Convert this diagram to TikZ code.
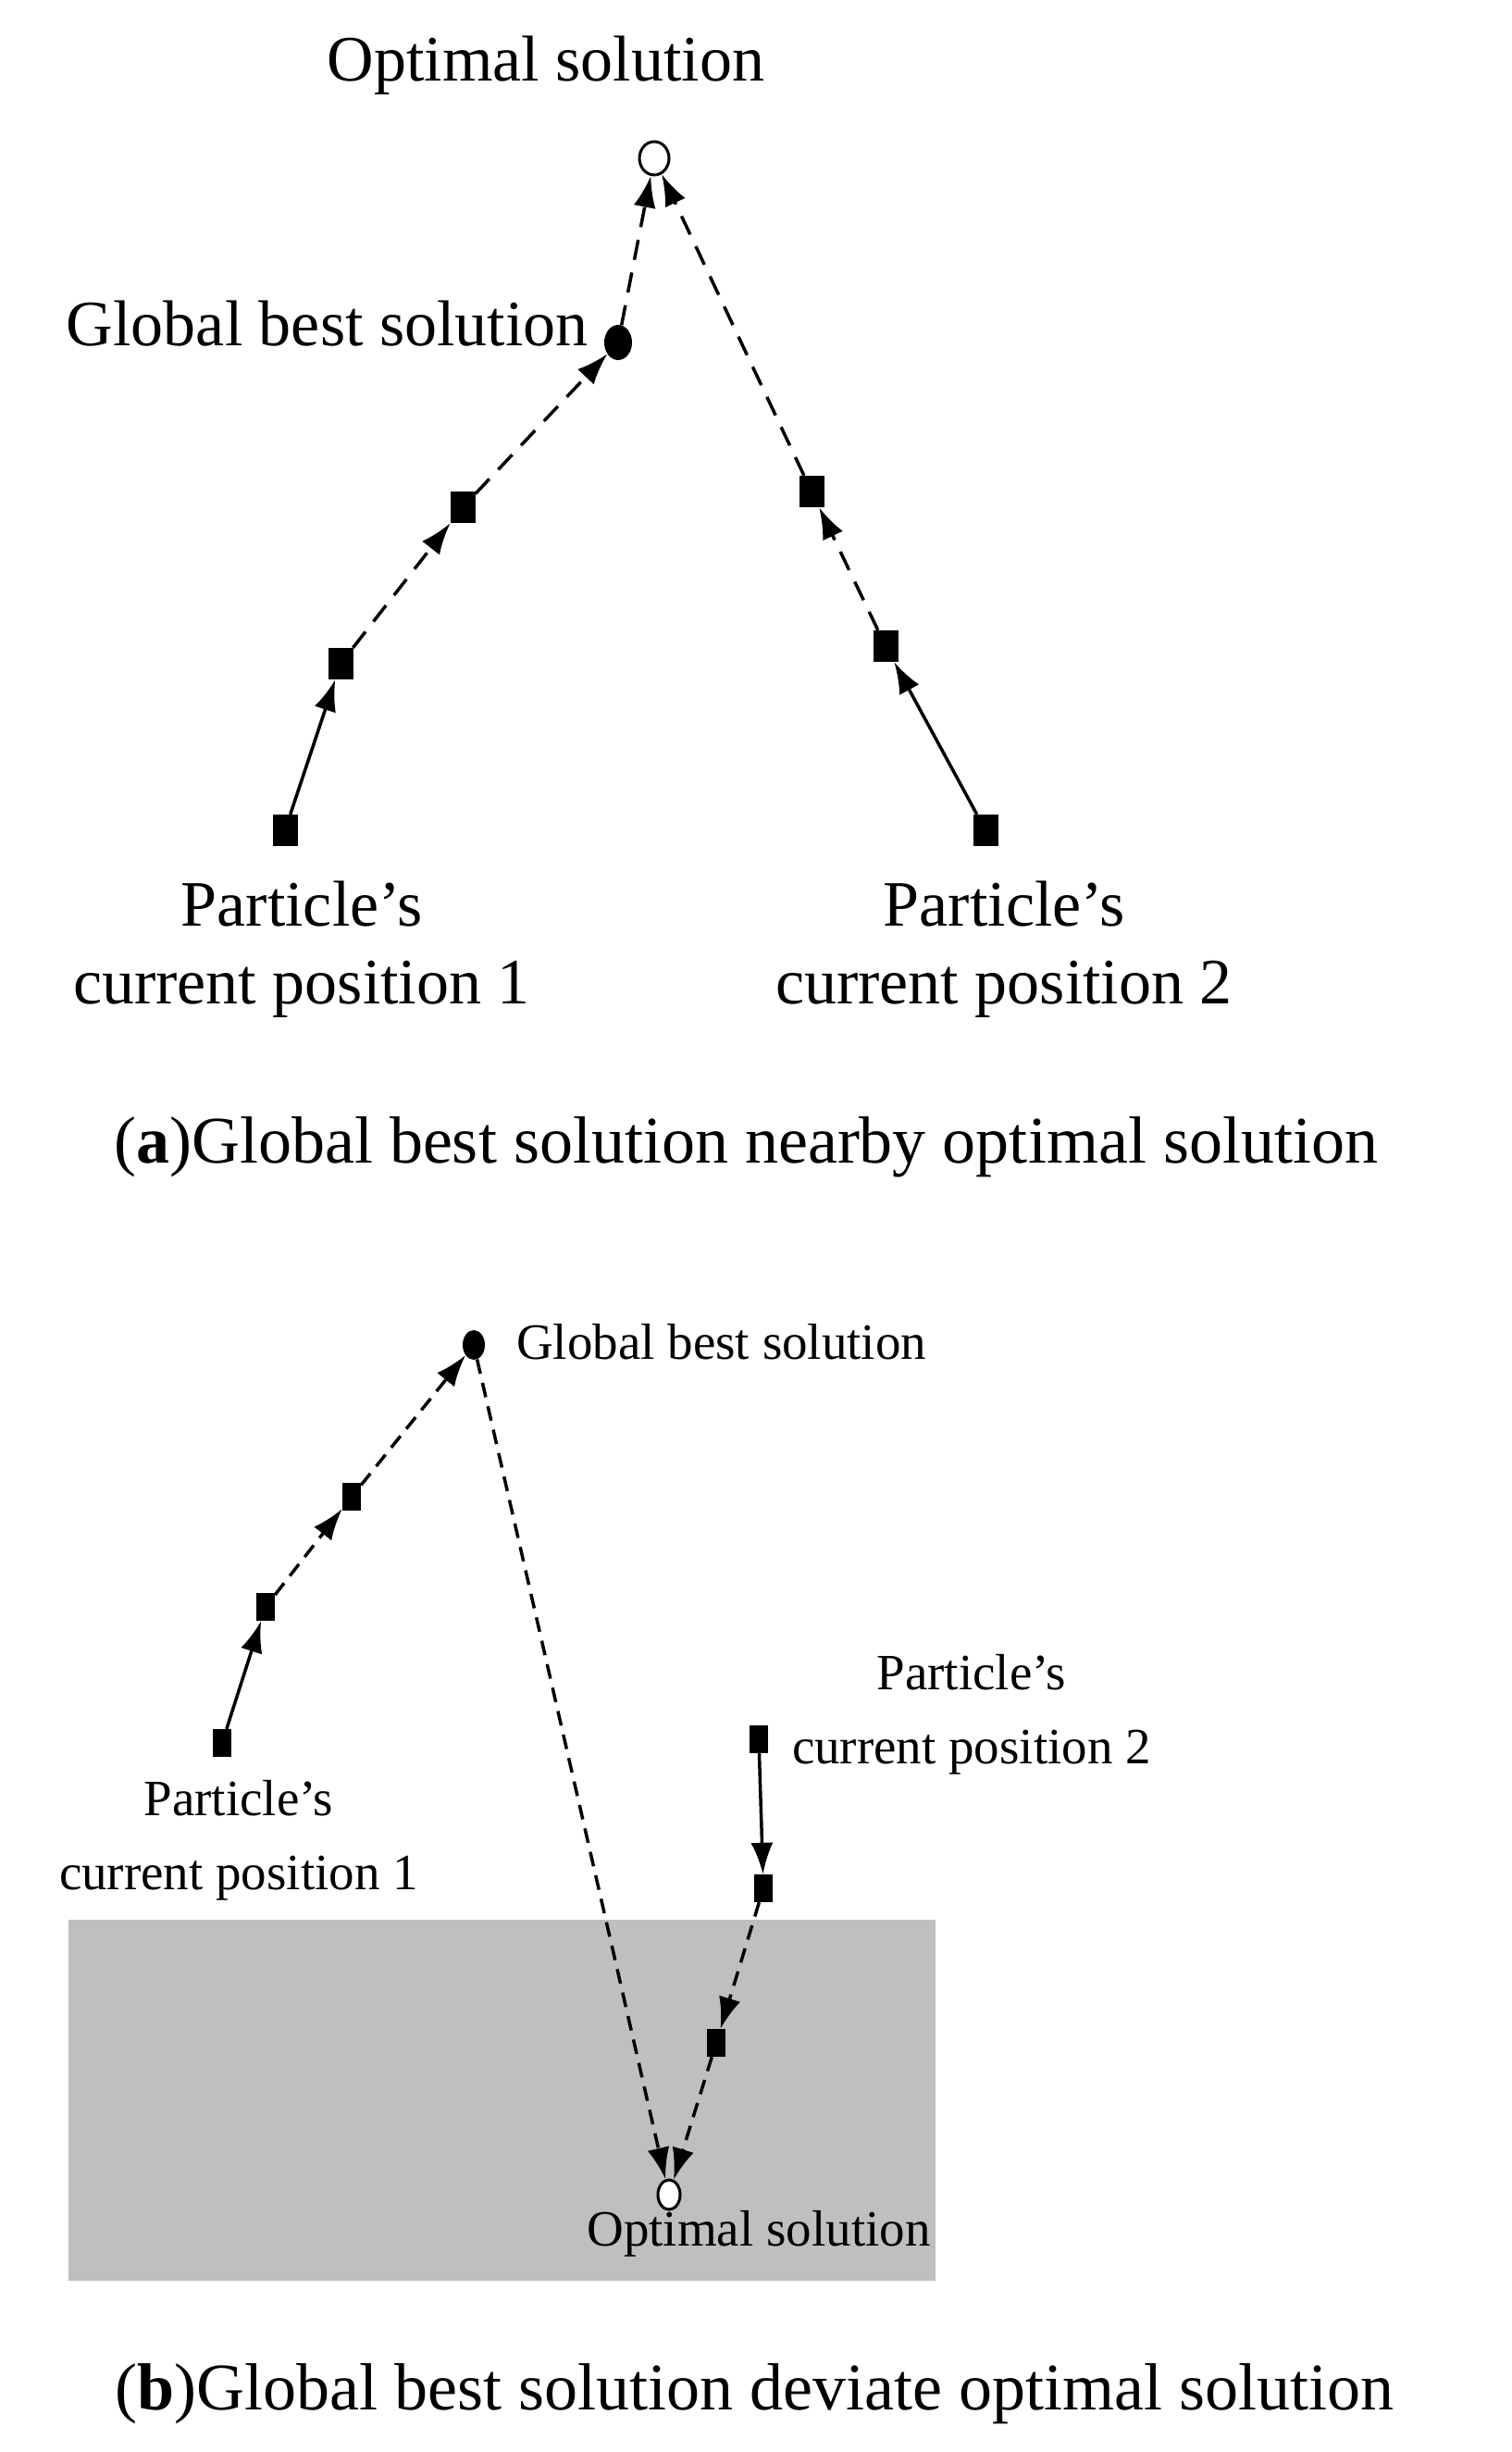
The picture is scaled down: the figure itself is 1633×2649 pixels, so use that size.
\documentclass[tikz,border=0pt]{standalone}
\usepackage{fontspec}
\setmainfont{Liberation Serif}
\usetikzlibrary{arrows.meta,shapes.geometric}
\begin{document}
\begin{tikzpicture}[x=1pt,y=-1pt,
  sq/.style={fill=black,minimum width=27pt,minimum height=34pt,inner sep=0pt},
  sqb/.style={fill=black,minimum width=20pt,minimum height=30pt,inner sep=0pt},
  opt/.style={draw,line width=3pt,fill=white,ellipse,minimum width=32pt,minimum height=36pt,inner sep=0pt},
  gb/.style={fill=black,ellipse,minimum width=30pt,minimum height=38pt,inner sep=0pt},
  optb/.style={draw,line width=3pt,fill=white,ellipse,minimum width=24pt,minimum height=32pt,inner sep=0pt},
  gbb/.style={fill=black,ellipse,minimum width=24pt,minimum height=32pt,inner sep=0pt},
  con/.style={line width=3.5pt,-{Latex[length=34pt,width=24pt]}},
  dsh/.style={con,dash pattern=on 22pt off 14pt},
  dshb/.style={con,dash pattern=on 16pt off 10pt},
  biglab/.style={font=\fontsize{70}{84}\selectfont,align=center,inner sep=0pt},
  smlab/.style={font=\fontsize{55}{80}\selectfont,align=center,inner sep=0pt},
  captxt/.style={font=\fontsize{72}{86}\selectfont,inner sep=0pt}]
\useasboundingbox (0,0) rectangle (1633,2649);
% (a)
\node[opt] (o1) at (707,171) {};
\node[gb] (g1) at (668,370) {};
\node[sq] (a1) at (308,897) {};
\node[sq] (a2) at (368,717) {};
\node[sq] (a3) at (500,548) {};
\node[sq] (c1) at (1065,897) {};
\node[sq] (c2) at (957,698) {};
\node[sq] (c3) at (877,531) {};
\node[biglab] (lo1) at (590,71) {Optimal solution};
\node[biglab,anchor=east] (lg1) at (636,350) {Global best solution};
\node[biglab] (lp1) at (326,1026) {Particle’s\\current position 1};
\node[biglab] (lp2) at (1085,1026) {Particle’s\\current position 2};
\draw[con] (a1) -- (a2);
\draw[dsh] (a2) -- (a3);
\draw[dsh] (a3) -- (g1);
\draw[dsh] (g1) -- (o1);
\draw[con] (c1) -- (c2);
\draw[dsh] (c2) -- (c3);
\draw[dsh] (c3) -- (o1);
\node[captxt] (ca) at (806,1239) {(\textbf{a})Global best solution nearby optimal solution};
% (b)
\fill[gray!50] (74,2074) rectangle (1011,2464);
\node[optb] (o2) at (723,2371) {};
\node[gbb] (g2) at (512,1453) {};
\node[sqb] (b1) at (240,1883) {};
\node[sqb] (b2) at (287,1736) {};
\node[sqb] (b3) at (380,1617) {};
\node[sqb] (d1) at (820,1879) {};
\node[sqb] (d2) at (825,2040) {};
\node[sqb] (d3) at (774,2207) {};
\node[smlab,anchor=west] (lg2) at (558,1450) {Global best solution};
\node[smlab] (lo2) at (820,2413) {Optimal solution};
\node[smlab] (lp3) at (258,1988) {Particle’s\\current position 1};
\node[smlab] (lp4) at (1050,1852) {Particle’s\\current position 2};
\draw[con] (b1) -- (b2);
\draw[dshb] (b2) -- (b3);
\draw[dshb] (b3) -- (g2);
\draw[dshb] (g2) -- (o2);
\draw[con] (d1) -- (d2);
\draw[dshb] (d2) -- (d3);
\draw[dshb] (d3) -- (o2);
\node[captxt] (cb) at (815,2586) {(\textbf{b})Global best solution deviate optimal solution};
\end{tikzpicture}
\end{document}
